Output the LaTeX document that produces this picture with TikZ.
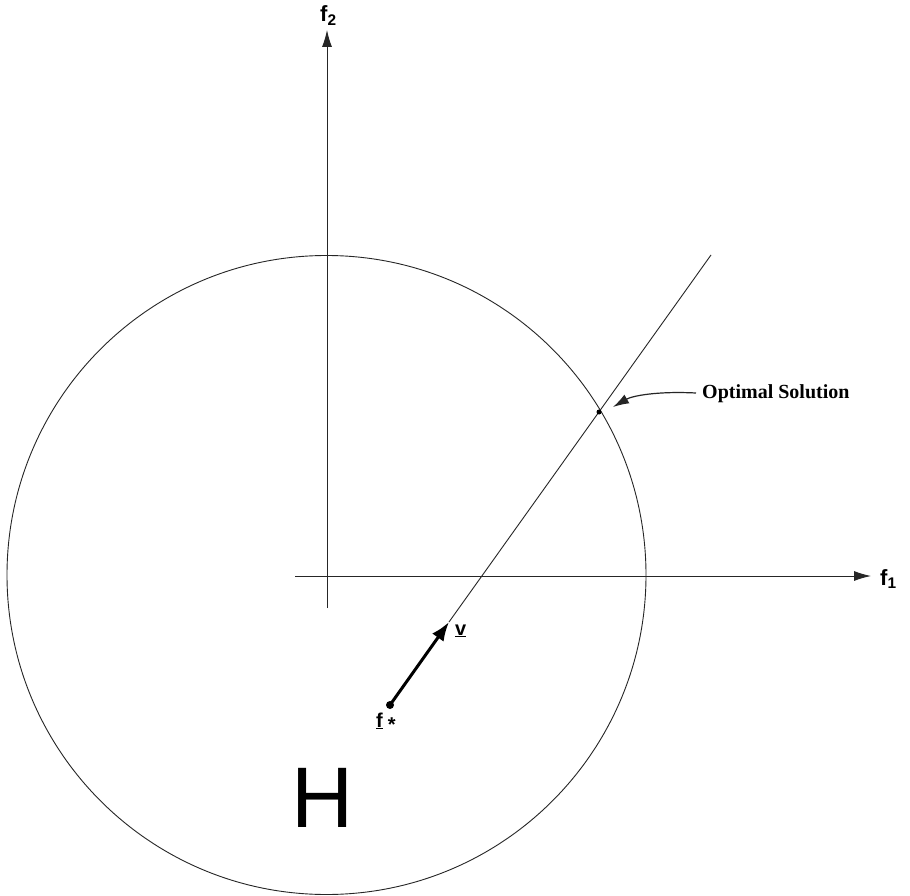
\documentclass[tikz,border=0pt]{standalone}
\usepackage{fontspec}
\setmainfont{Liberation Serif}
\newfontfamily\arialf{Liberation Sans}
\usetikzlibrary{arrows.meta}
\begin{document}
\begin{tikzpicture}[x=1pt,y=-1pt,
  thin line/.style={line width=0.9pt, draw=black!85},
  axisarrow/.style={thin line, -{Latex[length=17pt,width=10pt]}},
  lbl/.style={inner sep=0pt, font=\arialf\bfseries\fontsize{22}{24}\selectfont},
  dotnode/.style={circle, fill=black, inner sep=0pt}]
\useasboundingbox (0,0) rectangle (910,896);
\fill[white] (0,0) rectangle (910,896);
% feasible region
\coordinate (C) at (326.5,575);
\draw[thin line] (C) circle[radius=319.5];
% axes
\coordinate (xs) at (295,576);
\coordinate (xe) at (871,576);
\coordinate (ys) at (327,608);
\coordinate (ye) at (327,30);
\draw[axisarrow] (xs) -- (xe);
\draw[axisarrow] (ys) -- (ye);
\node[lbl, anchor=base west] (f2) at (320,22) {f\textsubscript{2}};
\node[lbl, anchor=base west] (f1) at (880,585) {f\textsubscript{1}};
% search direction line
\node[dotnode, minimum size=8pt] (fs) at (390,705) {};
\coordinate (vt) at (449,622);
\coordinate (lt) at (711,255);
\draw[thin line] (vt) -- (lt);
\draw[line width=3pt, -{Latex[length=19pt,width=14pt]}] (fs.center) -- (vt);
\node[dotnode, minimum size=5pt] (opt) at (599,412) {};
% labels
\node[lbl, font=\arialf\bfseries\fontsize{20}{22}\selectfont, anchor=base west] (v) at (455,635) {\underline{v}};
\node[lbl, font=\arialf\bfseries\fontsize{20}{22}\selectfont, anchor=base west] (fstar) at (376,727) {\underline{f}\hspace{5pt}\raisebox{-4pt}{*}};
\node[inner sep=0pt, anchor=base west, font=\bfseries\fontsize{20}{22}\selectfont] (os) at (702,398) {Optimal Solution};
\coordinate (osa) at (696,393);
\draw[thin line, line width=1.2pt, -{Latex[length=16pt,width=10pt]}] (osa) .. controls (656,391) and (632,396) .. (613,407);
\node[inner sep=0pt, anchor=base, font=\arialf\fontsize{86}{90}\selectfont] (H) at (322.5,827) {H};
\end{tikzpicture}
\end{document}
